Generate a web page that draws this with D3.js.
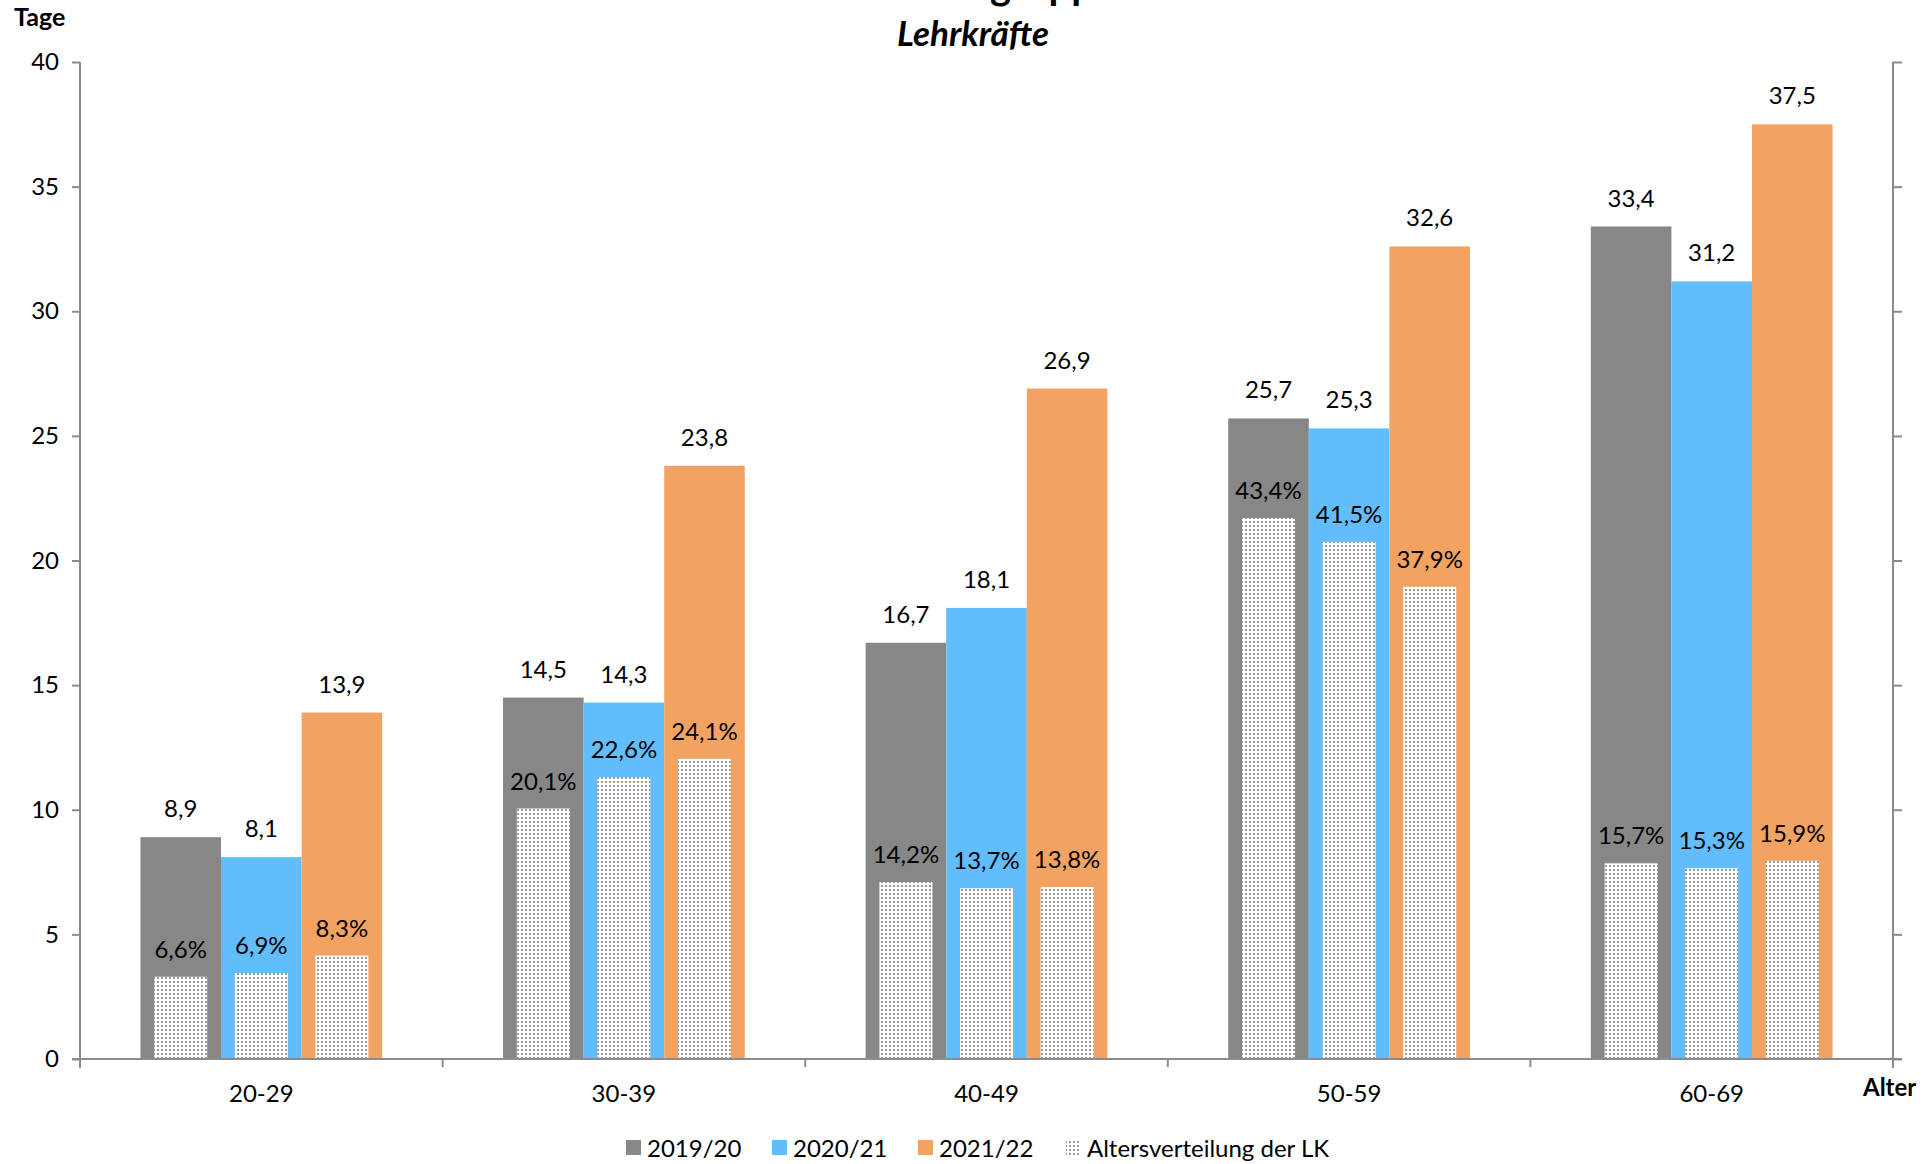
<!DOCTYPE html>
<html>
<head>
<meta charset="utf-8">
<script src="https://cdn.jsdelivr.net/npm/d3@7"></script>
<style>
  html, body { margin: 0; padding: 0; background: #fff; }
  svg { display: block; }
  text { font-family: Lato, "Open Sans", sans-serif; fill: #000; }
</style>
</head>
<body>
<svg id="chart" width="1932" height="1164"></svg>
<script>
// ---- data ----
const categories = ["20-29", "30-39", "40-49", "50-59", "60-69"];
const seriesNames = ["2019/20", "2020/21", "2021/22"];
const days2019 = [8.9, 14.5, 16.7, 25.7, 33.4];
const days2020 = [8.1, 14.3, 18.1, 25.3, 31.2];
const days2021 = [13.9, 23.8, 26.9, 32.6, 37.5];
const share2019 = [6.6, 20.1, 14.2, 43.4, 15.7];
const share2020 = [6.9, 22.6, 13.7, 41.5, 15.3];
const share2021 = [8.3, 24.1, 13.8, 37.9, 15.9];
const yTicks = [0, 5, 10, 15, 20, 25, 30, 35, 40];
const legendLabels = ["2019/20", "2020/21", "2021/22", "Altersverteilung der LK"];
const titleLine1 = "Fehlzeiten nach Altersgruppen";
const titleLine2 = "Lehrkräfte";
const yAxisLabel = "Tage";
const xAxisLabel = "Alter";

const daysBySeries = [days2019, days2020, days2021];
const shareBySeries = [share2019, share2020, share2021];
const colors = ["#878787", "#62BDFD", "#F3A361"];

const svg = d3.select("#chart");
const L = 80, R = 1893, T = 62, B = 1059;

// pattern
const defs = svg.append("defs");
const pat = defs.append("pattern").attr("id", "dots")
  .attr("patternUnits", "userSpaceOnUse").attr("width", 4).attr("height", 4);
pat.append("rect").attr("width", 4).attr("height", 4).attr("fill", "#fff");
pat.append("rect").attr("x", 1).attr("y", 1).attr("width", 2).attr("height", 2).attr("fill", "#9a9a9a");

const x0 = d3.scaleBand().domain(categories).range([L, R]).paddingInner(0).paddingOuter(0);
const x1 = d3.scaleBand().domain(seriesNames).range([0, x0.bandwidth()]).paddingInner(0).paddingOuter(0.75);
const y = d3.scaleLinear().domain([0, 40]).range([B, T]);
const y2 = d3.scaleLinear().domain([0, 80]).range([B, T]);

const patW = 53;

// bars
seriesNames.forEach((s, si) => {
  const g = svg.append("g");
  g.selectAll("rect").data(categories).join("rect")
    .attr("x", c => x0(c) + x1(s))
    .attr("y", (c, i) => y(daysBySeries[si][i]))
    .attr("width", x1.bandwidth())
    .attr("height", (c, i) => B - y(daysBySeries[si][i]))
    .attr("fill", colors[si]);
});
// pattern bars (secondary axis)
seriesNames.forEach((s, si) => {
  const g = svg.append("g");
  g.selectAll("rect").data(categories).join("rect")
    .attr("x", c => x0(c) + x1(s) + x1.bandwidth() / 2 - patW / 2)
    .attr("y", (c, i) => y2(shareBySeries[si][i]))
    .attr("width", patW)
    .attr("height", (c, i) => B - y2(shareBySeries[si][i]))
    .attr("fill", "url(#dots)");
});

// labels
seriesNames.forEach((s, si) => {
  const g = svg.append("g").attr("font-size", 24).attr("text-anchor", "middle");
  g.selectAll("text.v").data(categories).join("text").attr("class", "v")
    .attr("x", c => x0(c) + x1(s) + x1.bandwidth() / 2)
    .attr("y", (c, i) => y(daysBySeries[si][i]) - 20)
    .text((c, i) => daysBySeries[si][i].toFixed(1).replace(".", ","));
  g.selectAll("text.p").data(categories).join("text").attr("class", "p")
    .attr("x", c => x0(c) + x1(s) + x1.bandwidth() / 2)
    .attr("y", (c, i) => y2(shareBySeries[si][i]) - 19)
    .text((c, i) => shareBySeries[si][i].toFixed(1).replace(".", ",") + "%");
});

// axes
const axisColor = "#8c8c8c";
const yAxis = svg.append("g").attr("transform", `translate(${L},0)`)
  .call(d3.axisLeft(y).tickValues(yTicks).tickSize(8).tickPadding(13).tickFormat(d3.format("d")));
yAxis.select(".domain").remove();
yAxis.append("line").attr("x1", 0).attr("x2", 0).attr("y1", T).attr("y2", B + 9);
yAxis.selectAll("line").attr("stroke", axisColor).attr("stroke-width", 2);
yAxis.selectAll("text").attr("font-size", 24).attr("font-family", "Lato").attr("fill", "#000");

const yAxisR = svg.append("g").attr("transform", `translate(${R},0)`)
  .call(d3.axisRight(y2).ticks(8).tickSize(9).tickFormat(""));
yAxisR.select(".domain").remove();
yAxisR.append("line").attr("x1", 0).attr("x2", 0).attr("y1", T).attr("y2", B + 9);
yAxisR.selectAll("line").attr("stroke", axisColor).attr("stroke-width", 2);

// x axis
const xAxis = svg.append("g").attr("transform", `translate(0,${B})`)
  .call(d3.axisBottom(x0).tickSize(0).tickPadding(26));
xAxis.select(".domain").remove();
xAxis.append("line").attr("x1", L - 8).attr("x2", R + 9).attr("y1", 0).attr("y2", 0);
xAxis.selectAll("g.bt").data(categories.slice(1)).join("line")
  .attr("x1", c => x0(c)).attr("x2", c => x0(c)).attr("y1", 0).attr("y2", 8);
xAxis.selectAll("line").attr("stroke", axisColor).attr("stroke-width", 2);
xAxis.selectAll("text").attr("font-size", 24).attr("font-family", "Lato").attr("fill", "#000");

// axis titles
svg.append("text").attr("x", 14).attr("y", 26).attr("font-size", 25).attr("font-weight", "bold").text(yAxisLabel);
svg.append("text").attr("x", 1863).attr("y", 1096).attr("font-size", 24).attr("font-weight", "bold").text(xAxisLabel);

// title (first line is clipped by the top edge, as in the reference)
const t1 = svg.append("text").attr("x", 0).attr("y", -1)
  .attr("font-size", 40).attr("font-weight", "bold").text(titleLine1);
const gIdx = titleLine1.indexOf("gruppen");
const gPos = t1.node().getStartPositionOfChar(gIdx).x;
t1.attr("x", 990 - gPos);
svg.append("text").attr("x", 973).attr("y", 46).attr("text-anchor", "middle")
  .attr("font-size", 35).attr("font-weight", "bold").attr("font-style", "italic").text(titleLine2);

// legend
const legendX = [626, 772, 918, 1066];
const legendFill = [colors[0], colors[1], colors[2], "url(#dots)"];
const lg = svg.append("g");
legendLabels.forEach((lab, i) => {
  lg.append("rect").attr("x", legendX[i]).attr("y", 1140).attr("width", 15).attr("height", 15).attr("fill", legendFill[i]);
  lg.append("text").attr("x", legendX[i] + 21).attr("y", 1157).attr("font-size", 24).text(lab);
});
</script>
</body>
</html>
